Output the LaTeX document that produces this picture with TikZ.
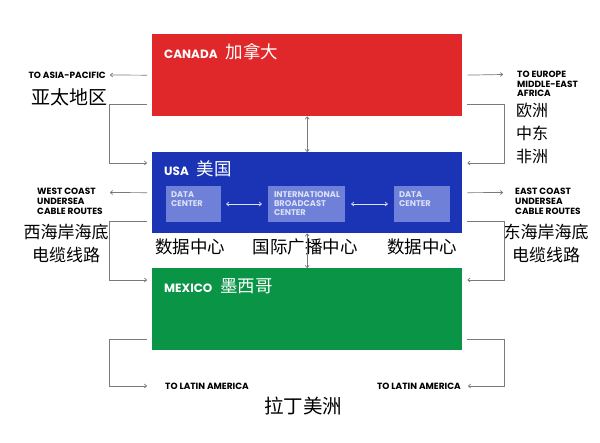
\documentclass[tikz,border=0pt]{standalone}
\usepackage{fontspec}
\setmainfont{Poppins}[BoldFont={Poppins Bold}]
\newfontfamily\cjk{Noto Sans CJK SC}
\usetikzlibrary{arrows.meta}
\definecolor{cred}{HTML}{E0282B}
\definecolor{cblue}{HTML}{1B33B5}
\definecolor{cgreen}{HTML}{0A9445}
\definecolor{cinner}{HTML}{6E80D8}
\definecolor{cinnertext}{HTML}{DCE1F7}
\definecolor{lgray}{HTML}{7A7A7A}
\newcommand{\zhtitle}[1]{{\mdseries\cjk\fontsize{17.5}{20}\selectfont #1}}
\begin{document}
\begin{tikzpicture}[x=1pt,y=-1pt,
  region/.style={draw=none, minimum width=310pt, anchor=north west, inner sep=0},
  title/.style={anchor=base west, inner sep=0, text=white, font=\bfseries\fontsize{12}{14}\selectfont},
  inbox/.style={fill=cinner, draw=none, minimum height=36pt, inner sep=0},
  intext/.style={anchor=north west, inner sep=0, align=left, text=cinnertext, font=\bfseries\fontsize{8.3}{8.6}\selectfont},
  conn/.style={draw=lgray, line width=0.7pt, -{To[length=3pt,width=4.5pt]}},
  dconn/.style={draw=lgray, line width=0.7pt, {To[length=3pt,width=4.5pt]}-{To[length=3pt,width=4.5pt]}},
  inconn/.style={draw=cinnertext, line width=0.7pt, {To[length=3pt,width=4.5pt]}-{To[length=3pt,width=4.5pt]}},
  lab/.style={inner sep=0, align=left, font=\bfseries\fontsize{9}{10}\selectfont},
  zh/.style={inner sep=0, align=center, font=\cjk\fontsize{18}{23}\selectfont}
]
\useasboundingbox (0,0) rectangle (600,442);

% regions
\node[region, fill=cred, minimum height=82pt] (canada) at (152,34) {};
\node[region, fill=cblue, minimum height=81pt] (usa) at (152,152) {};
\node[region, fill=cgreen, minimum height=82pt] (mexico) at (152,268) {};

\node[title] (canadat) at (164,58) {CANADA\hspace{8pt}\zhtitle{加拿大}};
\node[title] (usat) at (164,175) {USA\hspace{8pt}\zhtitle{美国}};
\node[title] (mexicot) at (164,292.5) {MEXICO\hspace{8pt}\zhtitle{墨西哥}};

% inner boxes
\node[inbox, minimum width=55pt] (dc1) at (193.5,204) {};
\node[inbox, minimum width=77pt] (ibc) at (306.5,204) {};
\node[inbox, minimum width=56pt] (dc2) at (422,204) {};
\node[intext] (dc1t) at ([xshift=5pt,yshift=-6pt]dc1.north west) {DATA\\CENTER};
\node[intext] (ibct) at ([xshift=6pt,yshift=-6pt]ibc.north west) {INTERNATIONAL\\BROADCAST\\CENTER};
\node[intext] (dc2t) at ([xshift=5pt,yshift=-6pt]dc2.north west) {DATA\\CENTER};
\draw[inconn, shorten <=5pt, shorten >=6pt] (dc1.east) -- (ibc.west);
\draw[inconn, shorten <=6pt, shorten >=6pt] (ibc.east) -- (dc2.west);

% chinese labels under inner boxes
\node[zh, font=\cjk\fontsize{17.5}{20}\selectfont] (dc1z) at (190,247) {数据中心};
\node[zh, font=\cjk\fontsize{17.5}{20}\selectfont] (ibcz) at (305,247) {国际广播中心};
\node[zh, font=\cjk\fontsize{17.5}{20}\selectfont] (dc2z) at (422,247) {数据中心};

% vertical double arrows
\draw[dconn] (canada.south) -- (usa.north);
\draw[dconn] (usa.south) -- (mexico.north);

% left side
\coordinate (asiatip) at (110,75);
\node[lab, anchor=east] (asia) at (106,75) {TO ASIA-PACIFIC};
\node[zh, font=\cjk\fontsize{19}{23}\selectfont] (asiaz) at (69,97) {亚太地区};
\draw[conn, shorten <=5pt] (canada.west) -- (asiatip);
\draw[conn, shorten <=5pt, shorten >=5pt] ([yshift=12pt]canada.south west) -- ++(-43,0) |- ([yshift=-11pt]usa.north west);

\coordinate (westtip) at (110,192.5);
\node[lab, anchor=north west] (west) at (37,188) {WEST COAST\\UNDERSEA\\CABLE ROUTES};
\node[zh, font=\cjk\fontsize{17}{23}\selectfont] (westz) at (66,243.5) {西海岸海底\\电缆线路};
\draw[conn, shorten <=5pt] (usa.west) -- (westtip);
\draw[conn, shorten <=5pt, shorten >=5pt] ([yshift=12pt]usa.south west) -- ++(-43,0) |- ([yshift=-12pt]mexico.north west);

\node[lab, anchor=west] (latl) at (165,386) {TO LATIN AMERICA};
\draw[conn, shorten <=5pt, shorten >=18pt] ([yshift=11pt]mexico.south west) -- ++(-43,0) |- (latl.west);

% right side
\coordinate (eurtip) at (503,74.5);
\node[lab, anchor=north west, font=\bfseries\fontsize{9}{9.6}\selectfont] (eur) at (517,71) {TO EUROPE\\MIDDLE-EAST\\AFRICA};
\node[zh, anchor=north west, align=left, font=\cjk\fontsize{16}{23}\selectfont] (eurz) at (516,103) {欧洲\\中东\\非洲};
\draw[conn, shorten <=5pt] (canada.east) -- (eurtip);
\draw[conn, shorten <=5pt, shorten >=5pt] ([yshift=12pt]canada.south east) -- ++(42,0) |- ([yshift=-11pt]usa.north east);

\coordinate (easttip) at (503,192.5);
\node[lab, anchor=north west] (east) at (515,188) {EAST COAST\\UNDERSEA\\CABLE ROUTES};
\node[zh, font=\cjk\fontsize{17}{23}\selectfont] (eastz) at (546,243.5) {东海岸海底\\电缆线路};
\draw[conn, shorten <=5pt] (usa.east) -- (easttip);
\draw[conn, shorten <=5pt, shorten >=5pt] ([yshift=12pt]usa.south east) -- ++(42,0) |- ([yshift=-12pt]mexico.north east);

\node[lab, anchor=east] (latr) at (461,386) {TO LATIN AMERICA};
\draw[conn, shorten <=5pt, shorten >=7pt] ([yshift=11pt]mexico.south east) -- ++(42,0) |- (latr.east);

\node[zh, font=\cjk\fontsize{19.5}{23}\selectfont] (latz) at (303,406) {拉丁美洲};
\end{tikzpicture}
\end{document}
